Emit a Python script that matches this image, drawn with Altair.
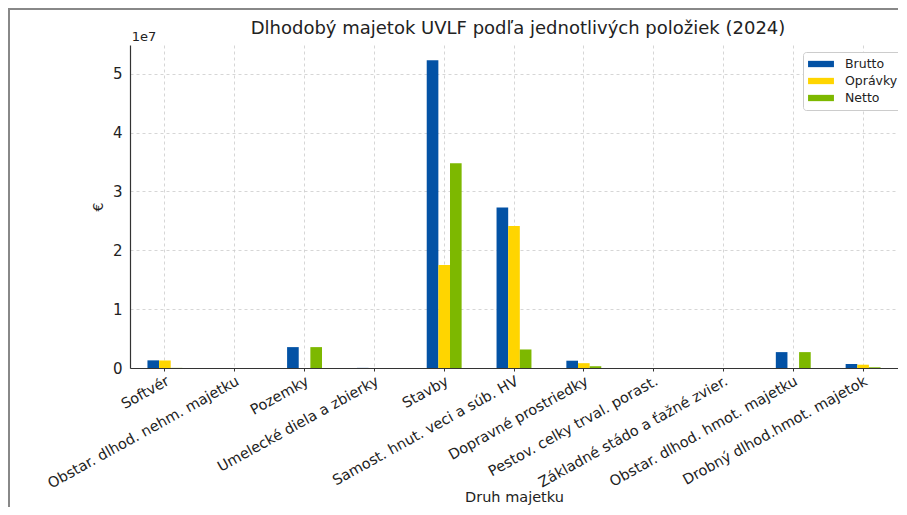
import altair as alt
import pandas as pd

categories = [
    "Softvér",
    "Obstar. dlhod. nehm. majetku",
    "Pozemky",
    "Umelecké diela a zbierky",
    "Stavby",
    "Samost. hnut. veci a súb. HV",
    "Dopravné prostriedky",
    "Pestov. celky trval. porast.",
    "Základné stádo a ťažné zvier.",
    "Obstar. dlhod. hmot. majetku",
    "Drobný dlhod.hmot. majetok",
]
series = ["Brutto", "Oprávky", "Netto"]
brutto = [1300000, 0, 3550000, 20000, 52300000, 27300000, 1240000, 0, 0, 2700000, 680000]
opravky = [1280000, 0, 0, 0, 17500000, 24150000, 820000, 0, 0, 0, 560000]
netto = [20000, 0, 3550000, 20000, 34800000, 3150000, 300000, 0, 0, 2700000, 120000]
colors = ["#0352A5", "#FFD500", "#7DB800"]
y_ticks = [0, 1e7, 2e7, 3e7, 4e7, 5e7]
title_text = "Dlhodobý majetok UVLF podľa jednotlivých položiek (2024)"

rows = []
for i, c in enumerate(categories):
    for s, vals in zip(series, [brutto, opravky, netto]):
        rows.append({"Druh majetku": c, "Položka": s, "Hodnota": vals[i]})
df = pd.DataFrame(rows)

# empty slots either side of each group so that the three bars fill half the band
offset_domain = ["_l"] + series + ["_r"]

FONT = "DejaVu Sans"
W, H = 768, 323

bars = alt.Chart(df).mark_bar().encode(
    x=alt.X(
        "Druh majetku:N",
        sort=categories,
        scale=alt.Scale(paddingInner=0, paddingOuter=0),
        axis=alt.Axis(
            title="Druh majetku",
            labelAngle=-29,
            labelAlign="right",
            labelBaseline="top",
            labelFontSize=14.5,
            labelColor="#222",
            labelPadding=3,
            labelLimit=0,
            titleFontSize=14.5,
            titleFontWeight="normal",
            titleColor="#222",
            titleY=122,
            titleBaseline="top",
            grid=True,
            gridDash=[3, 3],
            gridColor="#cccccc",
            gridWidth=0.8,
            bandPosition=0.5,
            ticks=True,
            tickSize=3,
            tickColor="#333",
            domainColor="#333",
            domainWidth=1.2,
        ),
    ),
    xOffset=alt.XOffset(
        "Položka:N",
        scale=alt.Scale(domain=offset_domain, paddingInner=0, paddingOuter=0.5),
    ),
    y=alt.Y(
        "Hodnota:Q",
        scale=alt.Scale(domain=[0, 54900000], nice=False, zero=True),
        axis=alt.Axis(
            title="€",
            values=y_ticks,
            labelExpr="format(datum.value / 1e7, 'd')",
            labelFontSize=15,
            labelColor="#222",
            titleFontSize=14,
            titleFontWeight="normal",
            titleColor="#222",
            titlePadding=7,
            grid=True,
            gridDash=[3, 3],
            gridColor="#cccccc",
            gridWidth=0.8,
            ticks=False,
            labelPadding=8,
            domainColor="#333",
            domainWidth=1.2,
        ),
    ),
    color=alt.Color(
        "Položka:N",
        sort=series,
        scale=alt.Scale(domain=series, range=colors),
        legend=alt.Legend(
            title=None,
            orient="none",
            legendX=673,
            legendY=7,
            labelFontSize=12.5,
            labelColor="#222",
            labelOffset=17,
            symbolType="M-1.85,-0.45L1.85,-0.45L1.85,0.45L-1.85,0.45Z",
            symbolSize=196,
            symbolOffset=6,
            symbolStrokeWidth=0,
            fillColor="white",
            strokeColor="#cccccc",
            cornerRadius=3,
            padding=5,
            rowPadding=3,
        ),
    ),
)

exp_text = alt.Chart(alt.Data(values=[{}])).mark_text(
    text="1e7", fontSize=13, font=FONT, color="#222", align="center", baseline="bottom"
).encode(x=alt.value(14), y=alt.value(-1))

title_mark = alt.Chart(alt.Data(values=[{}])).mark_text(
    text=title_text, fontSize=18, font=FONT, color="#222", align="center", baseline="middle"
).encode(x=alt.value(W / 2 + 4), y=alt.value(-16))

frame_v = alt.Chart(alt.Data(values=[{}])).mark_rule(color="#888888", strokeWidth=2).encode(
    x=alt.value(-121), y=alt.value(-36), y2=alt.value(H + 140)
)
frame_h = alt.Chart(alt.Data(values=[{}])).mark_rule(color="#888888", strokeWidth=2).encode(
    x=alt.value(-122), x2=alt.value(W + 10), y=alt.value(-36)
)

chart = (
    alt.layer(frame_v, frame_h, bars, exp_text, title_mark)
    .properties(
        width=W,
        height=H,
        autosize=alt.AutoSizeParams(type="none"),
        padding={"left": 122, "top": 37, "right": 0, "bottom": 139},
    )
    .configure(font=FONT)
    .configure_view(stroke=None)
)

chart.save("out.html", embed_options={"renderer": "svg", "actions": False})
